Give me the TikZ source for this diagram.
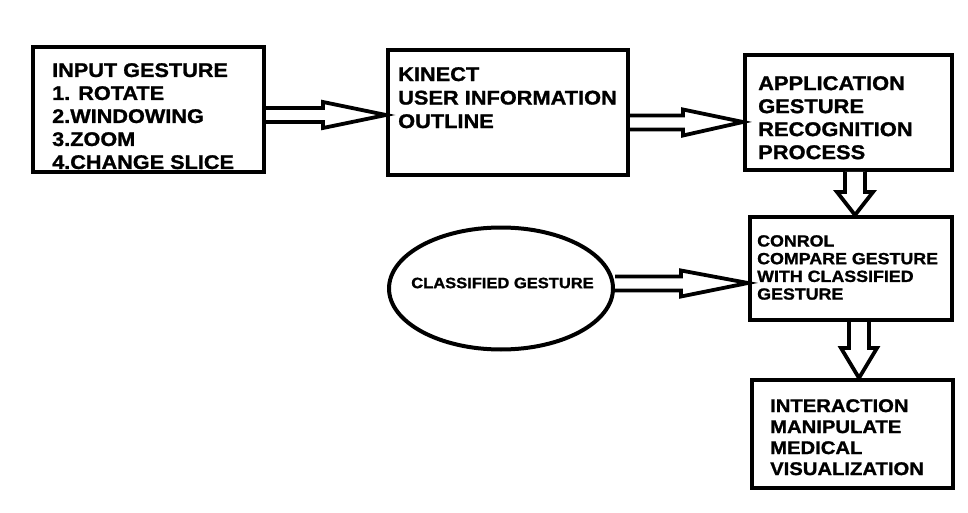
\documentclass[tikz,border=0pt]{standalone}
\usepackage{fontspec}
\setmainfont{Liberation Sans}[FakeStretch=1.1, BoldFeatures={FakeBold=1.2}]
\usetikzlibrary{calc,shapes.geometric}
\tikzset{
  box/.style={draw=black, line width=4pt, fill=white, inner sep=0pt},
  txt/.style={anchor=north west, inner sep=0pt, align=left, font=\bfseries},
  fat/.style={draw=black, line width=3.8pt, fill=white, line join=miter},
}
% horizontal hollow arrow: #1 start, #2 tip, #3 head length
\newcommand{\harrowfat}[3]{%
  \path[fat] let \p1=#1, \p2=#2 in
    (\x1,\y1+7pt) -- (\x2-#3,\y1+7pt) -- (\x2-#3,\y1+13pt) -- (\x2,\y2)
    -- (\x2-#3,\y1-13pt) -- (\x2-#3,\y1-7pt) -- (\x1,\y1-7pt);}
% vertical (downward) hollow arrow
\newcommand{\varrowfat}[3]{%
  \path[fat] let \p1=#1, \p2=#2 in
    (\x1-10pt,\y1) -- (\x1-10pt,\y2+#3) -- (\x1-18pt,\y2+#3) -- (\x2,\y2)
    -- (\x1+18pt,\y2+#3) -- (\x1+10pt,\y2+#3) -- (\x1+10pt,\y1);}
\begin{document}
\begin{tikzpicture}[x=1pt,y=-1pt]
\useasboundingbox[fill=white] (0,0) rectangle (968,513);
% boxes
\node[box, minimum width=231pt, minimum height=125pt] (b1) at (148.5,110) {};
\node[box, minimum width=240pt, minimum height=125pt] (b2) at (508,112.5) {};
\node[box, minimum width=207pt, minimum height=115pt] (b3) at (848.5,112.5) {};
\node[box, minimum width=202pt, minimum height=103pt] (b4) at (851,268.5) {};
\node[box, minimum width=201pt, minimum height=108pt] (b5) at (852.5,434) {};
\node[draw=black, line width=4pt, ellipse, minimum width=224pt, minimum height=122pt, inner sep=0pt] (e1) at (501,288.5) {};
% texts
\node[txt, font=\bfseries\fontsize{19.7}{23}\selectfont] (t1) at (52,63)
  {INPUT GESTURE\\1. ROTATE\\2.WINDOWING\\3.ZOOM\\4.CHANGE SLICE};
\node[txt, font=\bfseries\fontsize{19.8}{23.5}\selectfont] (t2) at (398,67)
  {KINECT\\USER INFORMATION\\OUTLINE};
\node[txt, font=\bfseries\fontsize{19.9}{23}\selectfont] (t3) at (758,76)
  {APPLICATION\\GESTURE\\RECOGNITION\\PROCESS};
\node[txt, font=\bfseries\fontsize{16.2}{17.7}\selectfont] (t4) at (757,235)
  {CONROL\\COMPARE GESTURE\\WITH CLASSIFIED\\GESTURE};
\node[txt, font=\bfseries\fontsize{18.4}{21}\selectfont] (t5) at (770,399)
  {INTERACTION\\MANIPULATE\\MEDICAL\\VISUALIZATION};
\node[inner sep=0pt, font=\bfseries\fontsize{15}{17}\selectfont] (te) at ($(e1.center)+(1.5,-5.5)$) {CLASSIFIED GESTURE};
% arrows
\coordinate (a1s) at ($(b1.east)+(0,5)$);
\coordinate (a1e) at ($(b2.west)+(0,2.5)$);
\harrowfat{(a1s)}{(a1e)}{63pt}
\coordinate (a2s) at ($(b2.east)+(0,10)$);
\coordinate (a2e) at ($(b3.west)+(0,9.5)$);
\harrowfat{(a2s)}{(a2e)}{60pt}
\coordinate (a3s) at ($(e1.east)+(0,-5)$);
\coordinate (a3e) at ($(b4.west)+(0,14.5)$);
\harrowfat{(a3s)}{(a3e)}{67pt}
\coordinate (a4s) at ($(b3.south)+(6.5,0)$);
\coordinate (a4e) at ($(b4.north)+(4,0)$);
\varrowfat{(a4s)}{(a4e)}{23pt}
\coordinate (a5s) at ($(b4.south)+(8,0)$);
\coordinate (a5e) at ($(b5.north)+(6.5,0)$);
\varrowfat{(a5s)}{(a5e)}{30pt}
\end{tikzpicture}
\end{document}
